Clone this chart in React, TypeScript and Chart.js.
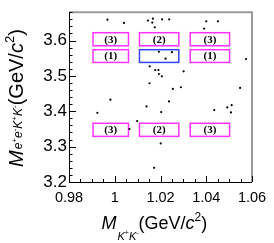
import React, { useEffect, useRef } from 'react';
import { Chart, registerables } from 'chart.js';
Chart.register(...registerables);

const pointsX = [0.9968, 1.004, 1.0145, 1.0167, 1.0164, 1.0175, 1.0207, 1.0238, 1.04, 1.0451, 1.0391, 1.0193, 1.025, 1.0222, 1.0574, 1.0153, 1.0177, 1.0191, 1.0193, 1.0206, 1.0301, 1.0152, 1.0254, 1.0289, 1.0548, 1.0237, 1.0139, 1.0203, 1.0435, 1.0492, 1.0511, 1.0508, 0.9981, 0.9924, 1.0098, 1.0064, 1.0201, 1.0172];
const pointsY = [3.659, 3.6498, 3.6562, 3.6618, 3.6506, 3.6374, 3.6599, 3.6599, 3.6542, 3.6542, 3.6337, 3.5682, 3.5671, 3.5486, 3.5474, 3.5269, 3.5165, 3.5165, 3.5053, 3.4988, 3.5129, 3.4791, 3.4631, 3.4679, 3.4659, 3.4277, 3.4136, 3.3976, 3.4032, 3.4108, 3.4173, 3.3968, 3.4327, 3.3956, 3.3723, 3.3498, 3.3091, 3.2402];

const xTickValues = [0.98, 1.0, 1.02, 1.04, 1.06];
const xTickLabels = ['0.98', '1', '1.02', '1.04', '1.06'];
const yTickValues = [3.2, 3.3, 3.4, 3.5, 3.6];
const yTickLabels = ['3.2', '3.3', '3.4', '3.5', '3.6'];

const boxXMin = [0.9905, 1.0108, 1.033];
const boxXMax = [1.006, 1.028, 1.0502];
const bandYMin = [3.585, 3.538, 3.329];
const bandYMax = [3.622, 3.574, 3.366];
const boxLabels = [
  ['(3)', '(2)', '(3)'],
  ['(1)', '', '(1)'],
  ['(3)', '(2)', '(3)'],
];

const X_MIN = 0.98, X_MAX = 1.06, Y_MIN = 3.2, Y_MAX = 3.68;

const overlay = {
  id: 'overlay',
  beforeDatasetsDraw(chart: any) {
    const { ctx, scales } = chart;
    const xs = scales.x, ys = scales.y;
    ctx.save();
    for (let r = 0; r < bandYMin.length; r++) {
      for (let c = 0; c < boxXMin.length; c++) {
        const x1 = xs.getPixelForValue(boxXMin[c]);
        const x2 = xs.getPixelForValue(boxXMax[c]);
        const y1 = ys.getPixelForValue(bandYMax[r]);
        const y2 = ys.getPixelForValue(bandYMin[r]);
        const signal = r === 1 && c === 1;
        ctx.strokeStyle = signal ? '#3344ff' : '#ff33ff';
        ctx.lineWidth = 1.5;
        ctx.strokeRect(x1, y1, x2 - x1, y2 - y1);
        const lab = boxLabels[r][c];
        if (lab) {
          ctx.fillStyle = '#000';
          ctx.font = 'bold 11px "Liberation Serif"';
          ctx.textAlign = 'center';
          ctx.textBaseline = 'middle';
          ctx.fillText(lab, (x1 + x2) / 2, (y1 + y2) / 2 + 0.5);
        }
      }
    }
    ctx.restore();
  },
  afterDraw(chart: any) {
    const { ctx, scales, chartArea } = chart;
    const xs = scales.x, ys = scales.y;
    const { left, right, top, bottom } = chartArea;
    ctx.save();
    // frame
    ctx.strokeStyle = '#9a9a9a';
    ctx.lineWidth = 2;
    ctx.beginPath();
    ctx.moveTo(left, top);
    ctx.lineTo(right, top);
    ctx.lineTo(right, bottom);
    ctx.stroke();
    ctx.strokeStyle = '#000';
    ctx.lineWidth = 1;
    ctx.beginPath();
    ctx.moveTo(left + 0.5, top);
    ctx.lineTo(left + 0.5, bottom + 0.5);
    ctx.lineTo(right, bottom + 0.5);
    ctx.stroke();
    // x ticks (inward)
    ctx.beginPath();
    for (let i = 0; i <= 16; i++) {
      const v = X_MIN + i * 0.005;
      const px = Math.round(xs.getPixelForValue(v)) + 0.5;
      const len = i % 4 === 0 ? 6 : 3;
      ctx.moveTo(px, bottom);
      ctx.lineTo(px, bottom - len);
    }
    // y ticks
    for (let i = 0; i <= 24; i++) {
      const v = Y_MIN + i * 0.02;
      const py = Math.round(ys.getPixelForValue(v)) + 0.5;
      const len = i % 5 === 0 ? 7 : 3.5;
      ctx.moveTo(left, py);
      ctx.lineTo(left + len, py);
    }
    ctx.stroke();

    // x title
    ctx.fillStyle = '#000';
    ctx.textAlign = 'left';
    ctx.textBaseline = 'alphabetic';
    let x = 101.5;
    const by = 228.5;
    ctx.font = 'italic 18px "Liberation Sans"';
    ctx.fillText('M', x, by);
    x += ctx.measureText('M').width + 1;
    const sub = (t: string, sup: string, bx: number, bby: number, fs: number, ss: number) => {
      ctx.font = `italic ${fs}px "Liberation Sans"`;
      ctx.fillText(t, bx, bby);
      bx += ctx.measureText(t).width;
      ctx.font = `${ss}px "Liberation Sans"`;
      ctx.fillText(sup, bx, bby - fs * 0.45);
      bx += ctx.measureText(sup).width;
      return bx;
    };
    x = sub('K', '+', x, 240, 11, 7);
    x = sub('K', '-', x, 240, 11, 7);
    ctx.font = '18px "Liberation Sans"';
    ctx.fillText('(GeV/', x, by);
    x += ctx.measureText('(GeV/').width;
    ctx.font = 'italic 18px "Liberation Sans"';
    ctx.fillText('c', x, by);
    x += ctx.measureText('c').width;
    ctx.font = '12px "Liberation Sans"';
    ctx.fillText('2', x, by - 8);
    x += ctx.measureText('2').width;
    ctx.font = '18px "Liberation Sans"';
    ctx.fillText(')', x, by);

    // y title (rotated)
    ctx.translate(23, 167);
    ctx.rotate(-Math.PI / 2);
    let t = 0;
    ctx.font = 'italic 20px "Liberation Sans"';
    ctx.fillText('M', t, 0);
    t += ctx.measureText('M').width + 1;
    t = sub('e', '+', t, -1, 12, 8);
    t = sub('e', '-', t, -1, 12, 8);
    t = sub('K', '+', t, -1, 12, 8);
    t = sub('K', '-', t, -1, 12, 8);
    ctx.font = '20px "Liberation Sans"';
    ctx.fillText('(GeV/', t, 0);
    t += ctx.measureText('(GeV/').width;
    ctx.font = 'italic 20px "Liberation Sans"';
    ctx.fillText('c', t, 0);
    t += ctx.measureText('c').width;
    ctx.font = '13px "Liberation Sans"';
    ctx.fillText('2', t, -9);
    t += ctx.measureText('2').width;
    ctx.font = '20px "Liberation Sans"';
    ctx.fillText(')', t, 0);
    ctx.restore();
  },
};

export default function App() {
  const ref = useRef<HTMLCanvasElement>(null);
  useEffect(() => {
    document.body.style.margin = '0';
    const canvas = ref.current!;
    const chart = new Chart(canvas, {
      type: 'scatter',
      data: {
        datasets: [
          {
            data: pointsX.map((v, i) => ({ x: v, y: pointsY[i] })),
            backgroundColor: '#000',
            borderColor: '#000',
            pointRadius: 1.1,
            pointBorderWidth: 0,
          },
        ],
      },
      options: {
        responsive: false,
        animation: false,
        events: [],
        layout: { padding: { top: 12, right: 22, left: 0, bottom: 0 } },
        plugins: { legend: { display: false }, tooltip: { enabled: false } },
        scales: {
          x: {
            type: 'linear',
            min: X_MIN,
            max: X_MAX,
            grid: { display: false, drawTicks: false },
            border: { display: false },
            afterBuildTicks: (s: any) => { s.ticks = xTickValues.map((v) => ({ value: v })); },
            afterFit: (s: any) => { s.height = 61; },
            ticks: {
              padding: 7,
              maxRotation: 0,
              autoSkip: false,
              color: '#000',
              font: { family: '"Liberation Sans"', size: 14.5 },
              callback: (v: any) => {
                const i = xTickValues.findIndex((t) => Math.abs(t - v) < 1e-6);
                return i >= 0 ? xTickLabels[i] : '';
              },
            },
          },
          y: {
            type: 'linear',
            min: Y_MIN,
            max: Y_MAX,
            grid: { display: false, drawTicks: false },
            border: { display: false },
            afterBuildTicks: (s: any) => { s.ticks = yTickValues.map((v) => ({ value: v })); },
            afterFit: (s: any) => { s.width = 69; },
            ticks: {
              padding: 2,
              autoSkip: false,
              color: '#000',
              font: { family: '"Liberation Sans"', size: 17 },
              callback: (v: any) => {
                const i = yTickValues.findIndex((t) => Math.abs(t - v) < 1e-6);
                return i >= 0 ? yTickLabels[i] : '';
              },
            },
          },
        },
      },
      plugins: [overlay],
    });
    return () => chart.destroy();
  }, []);
  return <canvas ref={ref} width={274} height={243} style={{ display: 'block', width: 274, height: 243 }} />;
}
